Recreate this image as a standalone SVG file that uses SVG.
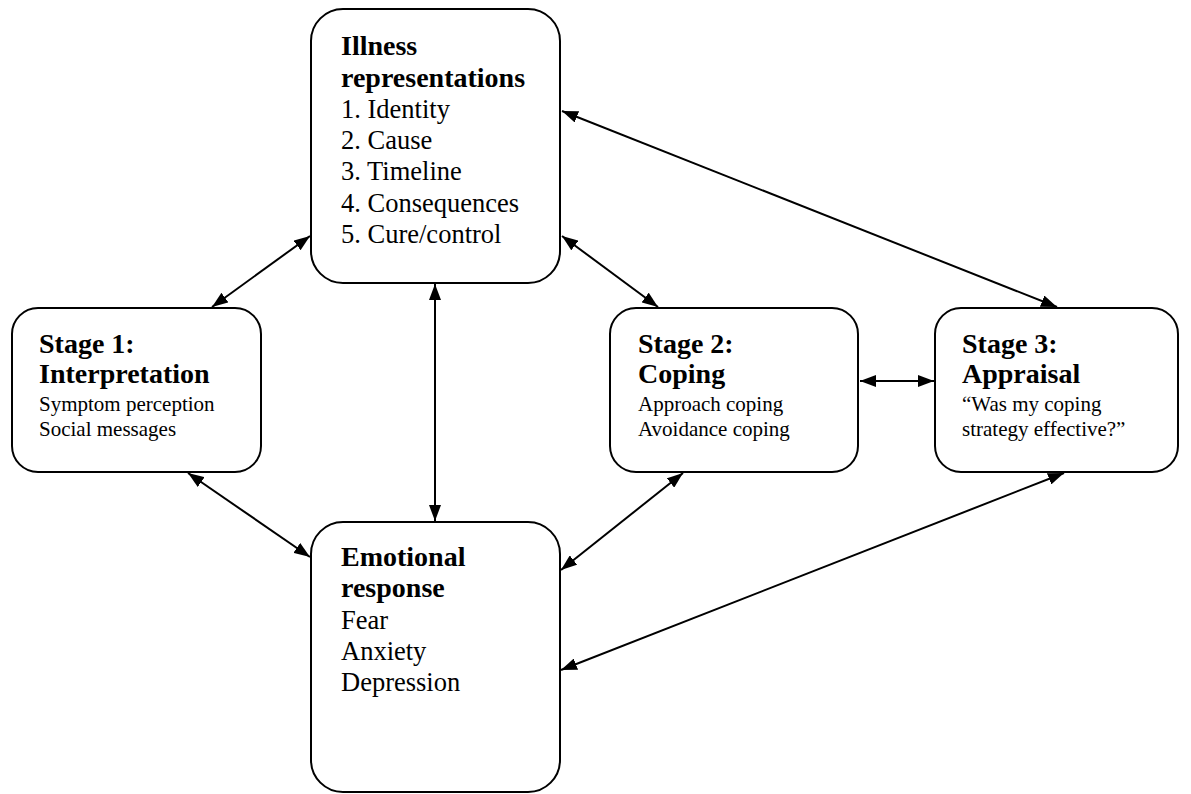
<svg xmlns="http://www.w3.org/2000/svg" width="1191" height="794" viewBox="0 0 1191 794">
<style>
.box{fill:#fff;stroke:#000;stroke-width:2}
.b{font-family:"Liberation Serif","Times New Roman",serif;font-weight:bold;font-size:28px;fill:#000}
.r{font-family:"Liberation Serif","Times New Roman",serif;font-size:26.5px;fill:#000}
.s{font-family:"Liberation Serif","Times New Roman",serif;font-size:21px;fill:#000}
.c{stroke:#000;stroke-width:2;fill:none;marker-start:url(#ah);marker-end:url(#ah)}
</style>
<defs>
<marker id="ah" markerUnits="userSpaceOnUse" viewBox="0 0 16 12" markerWidth="16" markerHeight="12" refX="16" refY="6" orient="auto-start-reverse">
<path d="M0,0 L16,6 L0,12 z" fill="#000"/>
</marker>
</defs>
<rect width="1191" height="794" fill="#fff"/>
<g id="connectors">
<line class="c" x1="212" y1="307" x2="310" y2="236"/>
<line class="c" x1="562" y1="236" x2="658" y2="307"/>
<line class="c" x1="562" y1="111" x2="1057" y2="307"/>
<line class="c" x1="435" y1="284" x2="435" y2="521"/>
<line class="c" x1="188" y1="473" x2="310" y2="557"/>
<line class="c" x1="683" y1="473" x2="561" y2="570"/>
<line class="c" x1="1064" y1="473" x2="561" y2="670"/>
<line class="c" x1="860" y1="381" x2="934" y2="381"/>
</g>
<g id="illness">
<rect class="box" x="311" y="9" width="249" height="274" rx="32"/>
<text class="b" x="341" y="55">Illness</text>
<text class="b" x="341" y="87">representations</text>
<text class="r" x="341" y="118">1. Identity</text>
<text class="r" x="341" y="149">2. Cause</text>
<text class="r" x="341" y="180">3. Timeline</text>
<text class="r" x="341" y="212">4. Consequences</text>
<text class="r" x="341" y="243">5. Cure/control</text>
</g>
<g id="stage1">
<rect class="box" x="12" y="308" width="249" height="164" rx="26"/>
<text class="b" x="39" y="353">Stage 1:</text>
<text class="b" x="39" y="383">Interpretation</text>
<text class="s" x="39" y="411">Symptom perception</text>
<text class="s" x="39" y="436">Social messages</text>
</g>
<g id="stage2">
<rect class="box" x="610" y="308" width="248" height="164" rx="26"/>
<text class="b" x="638" y="353">Stage 2:</text>
<text class="b" x="638" y="383">Coping</text>
<text class="s" x="638" y="411">Approach coping</text>
<text class="s" x="638" y="436">Avoidance coping</text>
</g>
<g id="stage3">
<rect class="box" x="935" y="308" width="243" height="164" rx="26"/>
<text class="b" x="962" y="353">Stage 3:</text>
<text class="b" x="962" y="383">Appraisal</text>
<text class="s" x="962" y="411">“Was my coping</text>
<text class="s" x="962" y="436">strategy effective?”</text>
</g>
<g id="emotional">
<rect class="box" x="311" y="522" width="249" height="270" rx="32"/>
<text class="b" x="341" y="566">Emotional</text>
<text class="b" x="341" y="597">response</text>
<text class="r" x="341" y="629">Fear</text>
<text class="r" x="341" y="660">Anxiety</text>
<text class="r" x="341" y="691">Depression</text>
</g>
</svg>
